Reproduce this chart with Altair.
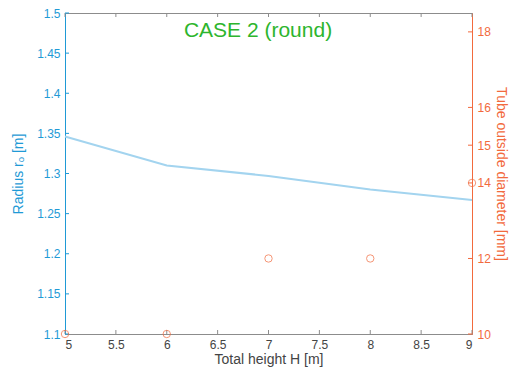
import altair as alt
import pandas as pd

H = [5, 6, 7, 8, 9]
radius = [1.346, 1.310, 1.297, 1.280, 1.267]
tube_d = [10, 10, 12, 12, 14]

x_ticks = [5, 5.5, 6, 6.5, 7, 7.5, 8, 8.5, 9]
left_ticks = [1.1, 1.15, 1.2, 1.25, 1.3, 1.35, 1.4, 1.45, 1.5]
right_ticks = [10, 12, 14, 15, 16, 18]

BLUE = "#1f9ad6"
LINE_BLUE = "#a3d4ef"
ORANGE = "#f26a3d"
GRAY = "#8c8c8c"
FONT = "Liberation Sans"

W, Hh = 407, 321

df = pd.DataFrame({"H": H, "r": radius, "d": tube_d})
xt = pd.DataFrame({"x": x_ticks})
lt = pd.DataFrame({"v": left_ticks})
rt = pd.DataFrame({"v": right_ticks})

xscale = alt.Scale(domain=[5, 9], nice=False, zero=False)
lscale = alt.Scale(domain=[1.1, 1.5], nice=False, zero=False)
rscale = alt.Scale(domain=[10, 18.5], nice=False, zero=False)

xaxis = alt.Axis(values=x_ticks, format="~g", title="Total height H [m]",
                 domainColor=GRAY, tickSize=0, labelColor="#444444",
                 titleColor="#444444", labelFontSize=12, titleFontSize=14,
                 titleFontWeight="normal", labelPadding=5, titlePadding=2,
                 grid=False, labelFont=FONT, titleFont=FONT)

line = alt.Chart(df).mark_line(color=LINE_BLUE, strokeWidth=2).encode(
    x=alt.X("H:Q", scale=xscale, axis=xaxis),
    y=alt.Y("r:Q", scale=lscale, axis=alt.Axis(
        values=left_ticks, format="~g", title="Radius rₒ [m]", orient="left",
        domainColor=BLUE, tickSize=0, labelColor=BLUE, titleColor=BLUE,
        labelFontSize=12, titleFontSize=14, titleFontWeight="normal",
        labelPadding=5, titlePadding=11, grid=False, labelFont=FONT, titleFont=FONT)),
)

lticks = alt.Chart(lt).mark_rule(color=BLUE, strokeWidth=1).encode(
    x=alt.value(0), x2=alt.value(4),
    y=alt.Y("v:Q", scale=lscale),
)

xticks_b = alt.Chart(xt).mark_rule(color=GRAY, strokeWidth=1).encode(
    x=alt.X("x:Q", scale=xscale),
    y=alt.value(Hh), y2=alt.value(Hh - 4),
)
xticks_t = alt.Chart(xt).mark_rule(color=GRAY, strokeWidth=1).encode(
    x=alt.X("x:Q", scale=xscale),
    y=alt.value(0), y2=alt.value(4),
)

left = alt.layer(line, xticks_b, xticks_t, lticks)

pts = alt.Chart(df).mark_point(shape="circle", color=ORANGE, size=55,
                               strokeWidth=1, filled=False).encode(
    x=alt.X("H:Q", scale=xscale),
    y=alt.Y("d:Q", scale=rscale, axis=alt.Axis(
        values=right_ticks, format="~g", title="Tube outside diameter [mm]",
        orient="right", domainColor=ORANGE, tickSize=0, labelColor=ORANGE,
        titleColor=ORANGE, labelFontSize=12, titleFontSize=14,
        titleFontWeight="normal", labelPadding=5, titlePadding=3, grid=False,
        labelFont=FONT, titleFont=FONT)),
)

rticks = alt.Chart(rt).mark_rule(color=ORANGE, strokeWidth=1).encode(
    x=alt.value(W - 4), x2=alt.value(W),
    y=alt.Y("v:Q", scale=rscale),
)

title = alt.Chart(pd.DataFrame({"t": ["CASE 2 (round)"]})).mark_text(
    color="#2db52d", fontSize=21, font=FONT, align="center", baseline="middle"
).encode(text="t:N", x=alt.value(193), y=alt.value(18))

right = alt.layer(pts, rticks, title)

chart = alt.layer(left, right).resolve_scale(y="independent").properties(
    width=W, height=Hh,
    autosize=alt.AutoSizeParams(type="none"),
    padding={"left": 57, "top": 5, "right": 37, "bottom": 34},
    background="white",
).configure_view(stroke=GRAY, strokeWidth=1)

chart.save("out.html", embed_options={"renderer": "svg", "actions": False})
